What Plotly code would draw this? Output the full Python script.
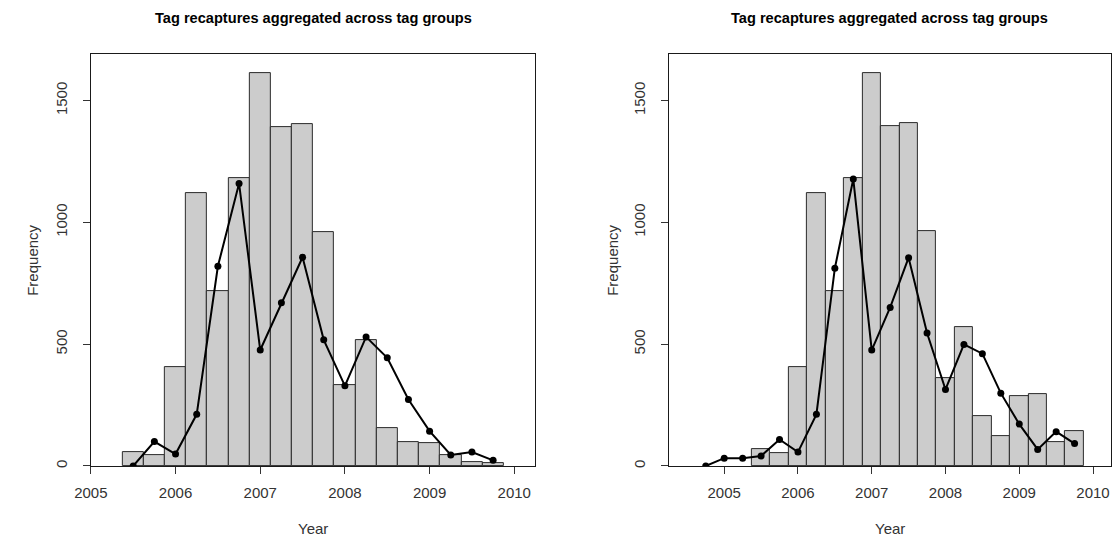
import plotly.graph_objects as go

# Quarterly bin centres (years) shared by both histograms
bin_centres = [2005.5, 2005.75, 2006.0, 2006.25, 2006.5, 2006.75, 2007.0, 2007.25,
               2007.5, 2007.75, 2008.0, 2008.25, 2008.5, 2008.75, 2009.0, 2009.25,
               2009.5, 2009.75]

# Left panel: histogram counts and the overlaid recapture series
left_counts = [59, 43, 407, 1120, 716, 1180, 1612, 1393, 1404, 959, 331, 518,
               155, 96, 93, 43, 15, 10]
left_line_x = [2005.5, 2005.75, 2006.0, 2006.25, 2006.5, 2006.75, 2007.0, 2007.25,
               2007.5, 2007.75, 2008.0, 2008.25, 2008.5, 2008.75, 2009.0, 2009.25,
               2009.5, 2009.75]
left_line_y = [0, 100, 49, 212, 820, 1160, 476, 670, 857, 518, 329, 530, 444,
               273, 143, 45, 57, 23]

# Right panel
right_counts = [68, 51, 407, 1120, 720, 1180, 1612, 1397, 1408, 964, 362, 570,
                206, 122, 285, 296, 96, 145]
right_line_x = [2004.75, 2005.0, 2005.25, 2005.5, 2005.75, 2006.0, 2006.25, 2006.5,
                2006.75, 2007.0, 2007.25, 2007.5, 2007.75, 2008.0, 2008.25, 2008.5,
                2008.75, 2009.0, 2009.25, 2009.5, 2009.75]
right_line_y = [0, 32, 32, 41, 109, 57, 212, 812, 1178, 476, 651, 855, 546, 314,
                499, 461, 299, 172, 68, 141, 92]

year_ticks = [2005, 2006, 2007, 2008, 2009, 2010]
freq_ticks = [0, 500, 1000, 1500]

title_text = "Tag recaptures aggregated across tag groups"

W, H = 1112, 541
FONT = "Liberation Sans, Arial, sans-serif"

fig = go.Figure()

panels = [
    ("x", "y", left_counts, left_line_x, left_line_y),
    ("x2", "y2", right_counts, right_line_x, right_line_y),
]
for xa, ya, counts, lx, ly in panels:
    fig.add_trace(go.Bar(
        x=bin_centres, y=counts, width=0.25, xaxis=xa, yaxis=ya,
        marker=dict(color="#cccccc", line=dict(color="#2b2b2b", width=1)),
        showlegend=False, hoverinfo="x+y",
    ))
    fig.add_trace(go.Scatter(
        x=lx, y=ly, mode="lines+markers", xaxis=xa, yaxis=ya,
        line=dict(color="black", width=2),
        marker=dict(color="black", size=7),
        showlegend=False,
    ))

# panel geometry in pixels
left_px = (75, 526.5)
right_px = (662, 1110.7)
top_px, bottom_px = 54.3, 467.7

def xdom(px):
    return [px[0] / W, px[1] / W]

ydom = [1 - bottom_px / H, 1 - top_px / H]

axis_common = dict(
    showline=True, linecolor="#1a1a1a", linewidth=1, mirror=True,
    ticks="outside", ticklen=7, tickcolor="#333333", tickwidth=1,
    showgrid=False, zeroline=False,
    tickfont=dict(family=FONT, size=15, color="#333333"),
)

fig.update_layout(
    width=W, height=H,
    margin=dict(l=0, r=0, t=0, b=0),
    paper_bgcolor="white", plot_bgcolor="white",
    bargap=0,
    xaxis=dict(domain=xdom(left_px), range=[2005, 2010.25], anchor="y",
               tickvals=year_ticks, ticklabelstandoff=6, **axis_common),
    yaxis=dict(domain=ydom, range=[0, 1691], anchor="x",
               tickvals=freq_ticks, tickangle=-90, ticklabelstandoff=10,
               **axis_common),
    xaxis2=dict(domain=xdom(right_px), range=[2004.25, 2010.24], anchor="y2",
                tickvals=year_ticks, ticklabelstandoff=6, **axis_common),
    yaxis2=dict(domain=ydom, range=[0, 1691], anchor="x2",
                tickvals=freq_ticks, tickangle=-90, ticklabelstandoff=10,
                **axis_common),
)

annotations = []
for px in (left_px, right_px):
    cx = (px[0] + px[1]) / 2 / W
    annotations.append(dict(
        text="<b>" + title_text + "</b>", x=cx, y=1 - 18 / H,
        xref="paper", yref="paper", xanchor="center", yanchor="middle",
        showarrow=False, font=dict(family=FONT, size=14.6, color="black"),
    ))
    annotations.append(dict(
        text="Year", x=cx, y=1 - 530 / H,
        xref="paper", yref="paper", xanchor="center", yanchor="middle",
        showarrow=False, font=dict(family=FONT, size=15, color="#333333"),
    ))
for lx_px in (15, 604):
    annotations.append(dict(
        text="Frequency", x=lx_px / W, y=1 - (top_px + bottom_px) / 2 / H,
        xref="paper", yref="paper", xanchor="center", yanchor="middle",
        textangle=-90, showarrow=False,
        font=dict(family=FONT, size=15, color="#333333"),
    ))
fig.update_layout(annotations=annotations)

fig.write_html("out.html")
